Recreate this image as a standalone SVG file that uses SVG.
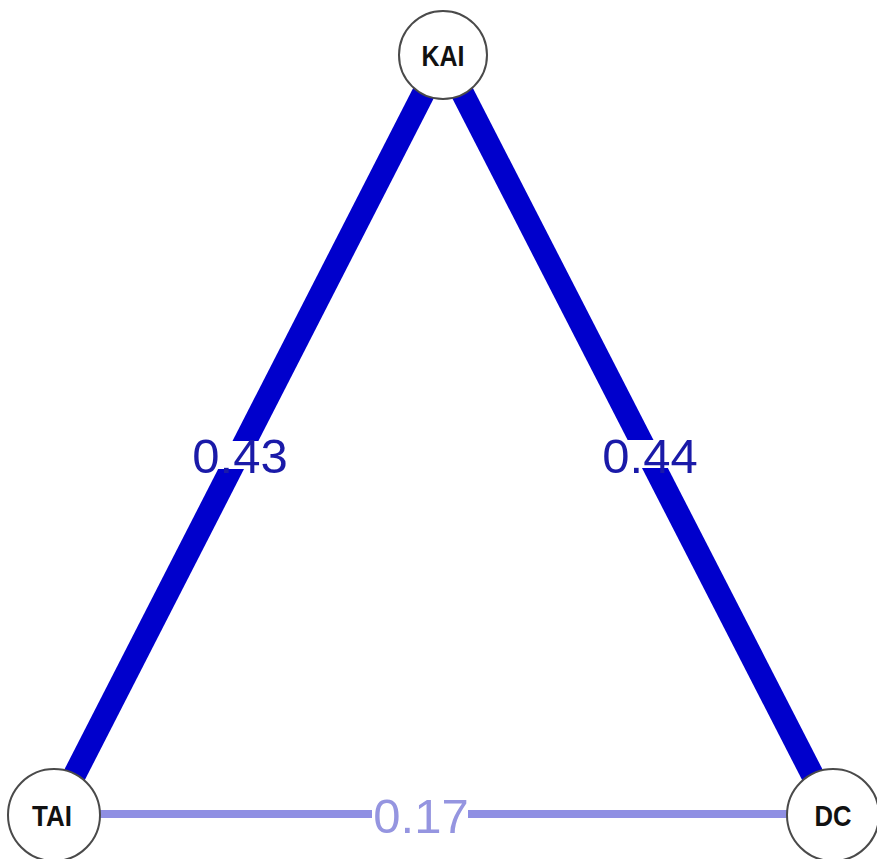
<svg xmlns="http://www.w3.org/2000/svg" width="877" height="859" viewBox="0 0 877 859">
<style>
.node circle{fill:#fff;stroke:#4a4a4a;stroke-width:2}
.node text{font-family:"Liberation Sans",Arial,sans-serif;font-weight:bold;font-size:30px;fill:#111;text-anchor:middle}
.strong{stroke:#0000CC;stroke-width:23;stroke-linecap:butt}
.weak{stroke:#8F8FE3;stroke-width:8}
.lbl{font-family:"Liberation Sans",Arial,sans-serif;font-size:49px;text-anchor:middle}
.bg{fill:#fff}
</style>
<rect width="877" height="859" fill="#fff"/>
<g id="connectors">
<line class="strong" x1="443" y1="55" x2="54" y2="815"/>
<line class="strong" x1="443" y1="55" x2="833" y2="815"/>
<line class="weak" x1="54" y1="814" x2="833" y2="814"/>
<rect class="bg" x="194" y="441" width="96" height="28"/>
<text class="lbl" x="240" y="473" fill="#1A1AA8">0.43</text>
<rect class="bg" x="603" y="440" width="96" height="28"/>
<text class="lbl" x="650" y="473" fill="#1A1AA8">0.44</text>
<rect class="bg" x="372" y="800" width="96" height="28"/>
<text class="lbl" x="421" y="833" fill="#9595E0">0.17</text>
</g>
<g id="KAI" class="node">
<circle cx="443" cy="55" r="44"/>
<text x="443" y="66" textLength="43" lengthAdjust="spacingAndGlyphs">KAI</text>
</g>
<g id="TAI" class="node">
<circle cx="54" cy="815" r="46"/>
<text x="52" y="826" textLength="40" lengthAdjust="spacingAndGlyphs">TAI</text>
</g>
<g id="DC" class="node">
<circle cx="833" cy="815" r="46"/>
<text x="833" y="826" textLength="37" lengthAdjust="spacingAndGlyphs">DC</text>
</g>
</svg>
